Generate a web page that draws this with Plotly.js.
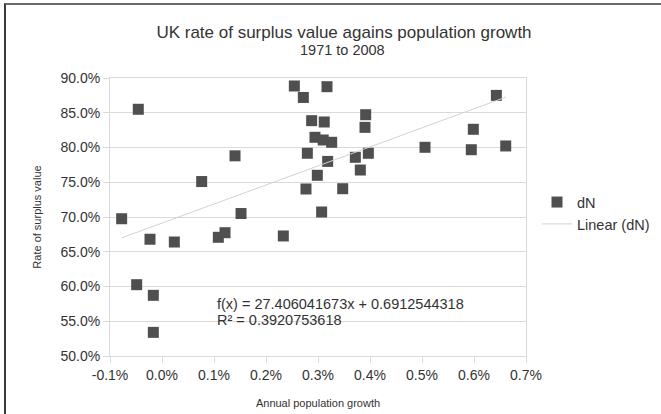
<!DOCTYPE html>
<html>
<head>
<meta charset="utf-8">
<script src="https://cdn.plot.ly/plotly-3.0.1.min.js"></script>
<style>
  html, body { margin: 0; padding: 0; background: #fff; }
  #wrap { position: relative; width: 661px; height: 414px; }
  #chart { width: 661px; height: 414px; }
  #frame { position: absolute; left: 4px; top: 3px; width: 657px; height: 411px;
           border-top: 2px solid #6a6a6a; border-left: 2px solid #3a3a3a;
           box-sizing: border-box; pointer-events: none; }
</style>
</head>
<body>
<div id="wrap"><div id="chart"></div><div id="frame"></div></div>
<script>
// Annual population growth (fraction) and rate of surplus value (fraction), 1971-2008
const popGrowth = [
  -0.000776, -0.000456, -0.000487, -0.000231, -0.000167, -0.000167, 0.000237,
  0.000763, 0.001083, 0.001212, 0.001404, 0.001520, 0.002333, 0.002545,
  0.002718, 0.003173, 0.002878, 0.003120, 0.002942, 0.003100, 0.003263,
  0.002795, 0.003186, 0.002987, 0.002769, 0.003070, 0.003917, 0.003904,
  0.003718, 0.003968, 0.003814, 0.003475, 0.005058, 0.005948, 0.005987,
  0.006430, 0.006610
];
const surplusRate = [
  0.6975, 0.8550, 0.6026, 0.6680, 0.5873, 0.5340, 0.6640,
  0.7510, 0.6708, 0.6774, 0.7880, 0.7050, 0.6727, 0.8885,
  0.8720, 0.8875, 0.8386, 0.8367, 0.8147, 0.8108, 0.8075,
  0.7917, 0.7800, 0.7600, 0.7403, 0.7072, 0.8472, 0.8290,
  0.7859, 0.7917, 0.7676, 0.7407, 0.8003, 0.7968, 0.8262,
  0.8750, 0.8022
];
// Linear trendline coefficients as shown on the chart
const slope = 27.406041673;
const intercept = 0.6912544318;
const rSquared = 0.3920753618;

// Axis ticks
const xTickVals = [-0.001, 0, 0.001, 0.002, 0.003, 0.004, 0.005, 0.006, 0.007];
const xTickLabels = ['-0.1%', '0.0%', '0.1%', '0.2%', '0.3%', '0.4%', '0.5%', '0.6%', '0.7%'];
const yTickVals = [0.5, 0.55, 0.6, 0.65, 0.7, 0.75, 0.8, 0.85, 0.9];
const yTickLabels = ['50.0%', '55.0%', '60.0%', '65.0%', '70.0%', '75.0%', '80.0%', '85.0%', '90.0%'];

const titleText = 'UK rate of surplus value agains population growth';
const subtitleText = '1971 to 2008';
const xTitle = 'Annual population growth';
const yTitle = 'Rate of surplus value';

const xMin = Math.min(...popGrowth), xMax = Math.max(...popGrowth);
const trendX = [xMin, xMax];
const trendY = trendX.map(v => slope * v + intercept);

const font = 'Liberation Sans, Arial, sans-serif';
const txt = '#333';

const traces = [
  { type: 'scatter', mode: 'markers', name: 'dN', x: popGrowth, y: surplusRate,
    marker: { symbol: 'square', size: 11, color: '#4f4f4f', line: { width: 0 } } },
  { type: 'scatter', mode: 'lines', name: 'Linear (dN)', x: trendX, y: trendY,
    line: { color: '#d2d2d2', width: 1 } }
];

const layout = {
  width: 661, height: 414,
  margin: { l: 110, r: 135, t: 78, b: 58 },
  paper_bgcolor: '#fff', plot_bgcolor: '#fff',
  font: { family: font, size: 14, color: txt },
  title: { text: titleText, x: 344 / 661, xref: 'container', xanchor: 'center',
           y: 1 - 32 / 414, yref: 'container', yanchor: 'middle',
           font: { family: font, size: 17, color: txt } },
  xaxis: {
    range: [-0.001, 0.007], tickmode: 'array', tickvals: xTickVals, ticktext: xTickLabels,
    showgrid: false, zeroline: false, showline: true, linecolor: '#dadada', linewidth: 1,
    mirror: true, ticks: 'outside', ticklen: 6, tickcolor: '#dadada',
    tickfont: { family: font, size: 14, color: txt },
    title: { text: xTitle, standoff: 17, font: { family: font, size: 11, color: txt } }
  },
  yaxis: {
    range: [0.5, 0.9], tickmode: 'array', tickvals: yTickVals, ticktext: yTickLabels,
    showgrid: true, gridcolor: '#dadada', gridwidth: 1, zeroline: false,
    showline: true, linecolor: '#dadada', linewidth: 1, mirror: true,
    ticks: 'outside', ticklen: 6, tickcolor: '#dadada',
    tickfont: { family: font, size: 14, color: txt },
    title: { text: yTitle, standoff: 16, font: { family: font, size: 11, color: txt } }
  },
  legend: { x: 537 / 661, xref: 'container', y: 0.514, yanchor: 'middle', xanchor: 'left',
            font: { family: font, size: 14.5, color: txt }, bgcolor: 'rgba(0,0,0,0)',
            tracegroupgap: 0 },
  annotations: [
    { xref: 'paper', yref: 'paper', x: (342 - 110) / 416, y: (356 - 50) / 278,
      xanchor: 'center', yanchor: 'middle', showarrow: false, text: subtitleText,
      font: { family: font, size: 14.5, color: txt } },
    { xref: 'paper', yref: 'paper', x: (215 - 110) / 416, y: (356 - 304) / 278,
      xanchor: 'left', yanchor: 'middle', align: 'left', showarrow: false,
      text: 'f(x) = ' + slope.toFixed(9) + 'x + ' + intercept.toFixed(10),
      font: { family: font, size: 14.5, color: txt } },
    { xref: 'paper', yref: 'paper', x: (215 - 110) / 416, y: (356 - 320) / 278,
      xanchor: 'left', yanchor: 'middle', align: 'left', showarrow: false,
      text: 'R² = ' + rSquared.toFixed(10),
      font: { family: font, size: 14.5, color: txt } }
  ],
  showlegend: true
};

Plotly.newPlot('chart', traces, layout, { displayModeBar: false, staticPlot: true });
</script>
</body>
</html>
